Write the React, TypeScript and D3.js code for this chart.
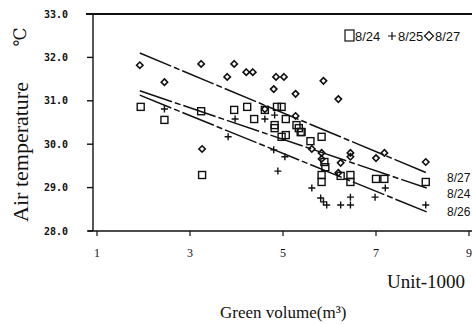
import * as d3 from 'd3';
import React, { useEffect, useRef } from 'react';

// 8/27 (diamonds)
const aug27 = [
  [1.92, 31.82], [2.45, 31.43], [3.24, 31.85], [3.95, 31.85], [3.8, 31.55],
  [4.21, 31.66], [4.35, 31.66], [4.8, 31.27], [4.85, 31.55], [5.02, 31.55],
  [5.27, 31.16], [5.87, 31.46], [6.19, 31.04], [3.26, 29.89], [4.61, 30.81],
  [5.27, 30.65], [5.62, 29.89], [5.83, 29.8], [6.45, 29.8], [6.45, 29.71],
  [7.0, 29.68], [7.18, 29.8], [6.24, 29.57], [5.83, 29.66], [6.19, 29.34],
  [8.07, 29.59],
];
// 8/24 (squares)
const aug24 = [
  [1.94, 30.86], [2.45, 30.56], [3.24, 30.76], [3.26, 29.29], [3.95, 30.79],
  [4.23, 30.86], [4.38, 30.58], [4.61, 30.79], [4.87, 30.86], [4.97, 30.86],
  [4.82, 30.44], [4.82, 30.37], [5.06, 30.58], [5.29, 30.44], [5.38, 30.28],
  [4.97, 30.17], [5.06, 30.21], [5.34, 30.37], [5.4, 30.28], [5.59, 30.07],
  [5.83, 30.17], [5.89, 29.59], [5.91, 29.47], [5.83, 29.29], [5.83, 29.13],
  [6.24, 29.27], [6.45, 29.29], [6.45, 29.13], [7.0, 29.2], [7.18, 29.2],
  [8.07, 29.13],
];
// 8/25 (plus)
const aug25 = [
  [2.45, 30.81], [3.97, 30.58], [4.61, 30.58], [4.82, 30.67], [3.82, 30.17],
  [4.8, 29.87], [5.04, 29.71], [4.89, 29.38], [5.62, 28.99], [5.81, 28.76],
  [5.87, 28.67], [5.94, 28.6], [6.24, 28.6], [6.45, 28.78], [6.45, 28.6],
  [6.98, 28.78], [7.2, 28.99], [8.07, 28.6],
];

// regression lines: label, x start, y start, x end, y end
const fitLabels = ['8/27', '8/24', '8/26'];
const fitStart = [[1.92, 32.1], [1.92, 31.23], [1.92, 31.13]];
const fitEnd = [[8.09, 29.34], [8.09, 28.99], [8.09, 28.44]];

const yTicks = [28, 29, 30, 31, 32, 33];
const xTicks = [1, 3, 5, 7, 9];

export default function App({ width = 472, height = 325 }) {
  const svgRef = useRef(null);

  const x = d3.scaleLinear().domain([1, 9]).range([97, 469]);
  const y = d3.scaleLinear().domain([28, 33]).range([231, 14]);

  useEffect(() => {
    const svg = d3.select(svgRef.current);
    svg.selectAll('*').remove();
    const ink = '#111';

    // frame: top and bottom lines, left axis
    svg.append('line').attr('x1', 86).attr('x2', width).attr('y1', y(33)).attr('y2', y(33))
      .attr('stroke', ink).attr('stroke-width', 2);
    svg.append('line').attr('x1', 88).attr('x2', width).attr('y1', y(28)).attr('y2', y(28))
      .attr('stroke', ink).attr('stroke-width', 1.6);
    svg.append('line').attr('x1', 93).attr('x2', 93).attr('y1', y(33)).attr('y2', y(28))
      .attr('stroke', ink).attr('stroke-width', 1.4);

    // Eixo Y
    const yg = svg.append('g');
    yg.selectAll('line').data(yTicks).enter().append('line')
      .attr('x1', 87).attr('x2', 93).attr('y1', (d) => y(d)).attr('y2', (d) => y(d))
      .attr('stroke', ink).attr('stroke-width', 1.4);
    yg.selectAll('text').data(yTicks).enter().append('text')
      .attr('x', 68).attr('y', (d) => y(d) + 3.5)
      .attr('text-anchor', 'end')
      .style('font-family', 'DejaVu Sans Mono')
      .style('font-weight', 'bold')
      .style('font-size', '10px')
      .attr('fill', ink)
      .text((d) => d3.format('.1f')(d));

    // Eixo X
    const xg = svg.append('g');
    xg.selectAll('line').data(xTicks).enter().append('line')
      .attr('x1', (d) => x(d)).attr('x2', (d) => x(d)).attr('y1', y(28)).attr('y2', y(28) + 5)
      .attr('stroke', ink).attr('stroke-width', 1.2);
    xg.selectAll('text').data(xTicks).enter().append('text')
      .attr('x', (d) => x(d)).attr('y', 257)
      .attr('text-anchor', 'middle')
      .style('font-family', 'Liberation Serif')
      .style('font-size', '12px')
      .attr('fill', ink)
      .text((d) => d);

    // regression lines
    svg.append('g').selectAll('line').data(fitLabels).enter().append('line')
      .attr('x1', (d, i) => x(fitStart[i][0])).attr('y1', (d, i) => y(fitStart[i][1]))
      .attr('x2', (d, i) => x(fitEnd[i][0])).attr('y2', (d, i) => y(fitEnd[i][1]))
      .attr('stroke', ink).attr('stroke-width', 1.5).attr('stroke-dasharray', '34,3,6,3');
    svg.append('g').selectAll('text').data(fitLabels).enter().append('text')
      .attr('x', 447).attr('y', (d, i) => y(fitEnd[i][1]) + [9, 10, 4][i])
      .style('font-family', 'Liberation Sans')
      .style('font-size', '12px')
      .attr('fill', ink)
      .text((d) => d);

    // points
    const dia = 'M0,-3.2L3.2,0L0,3.2L-3.2,0Z';
    svg.append('g').selectAll('path').data(aug27).enter().append('path')
      .attr('d', dia)
      .attr('transform', (d) => `translate(${x(d[0])},${y(d[1])})`)
      .attr('fill', 'none').attr('stroke', ink).attr('stroke-width', 1.6);
    svg.append('g').selectAll('rect').data(aug24).enter().append('rect')
      .attr('x', (d) => x(d[0]) - 3.5).attr('y', (d) => y(d[1]) - 3.5)
      .attr('width', 7).attr('height', 7)
      .attr('fill', 'none').attr('stroke', ink).attr('stroke-width', 1.4);
    svg.append('g').selectAll('path').data(aug25).enter().append('path')
      .attr('d', 'M-3.5,0H3.5M0,-3.5V3.5')
      .attr('transform', (d) => `translate(${x(d[0])},${y(d[1])})`)
      .attr('fill', 'none').attr('stroke', ink).attr('stroke-width', 1.4);

    // Legenda
    const lg = svg.append('g')
      .style('font-family', 'Liberation Sans')
      .style('font-size', '13px')
      .attr('fill', ink);
    lg.append('rect').attr('x', 345).attr('y', 30).attr('width', 9).attr('height', 11)
      .attr('fill', 'none').attr('stroke', ink).attr('stroke-width', 1.2);
    lg.append('text').attr('x', 355).attr('y', 41).text('8/24');
    lg.append('path').attr('d', 'M388,36H396M392,32V40').attr('stroke', ink).attr('stroke-width', 1.2);
    lg.append('text').attr('x', 398).attr('y', 41).text('8/25');
    lg.append('path').attr('d', 'M0,-4.5L4.5,0L0,4.5L-4.5,0Z').attr('transform', 'translate(429,36)')
      .attr('fill', 'none').attr('stroke', ink).attr('stroke-width', 1.2);
    lg.append('text').attr('x', 435).attr('y', 41).text('8/27');

    // titles
    svg.append('text')
      .attr('transform', 'translate(28,152) rotate(-90)')
      .attr('text-anchor', 'middle')
      .style('font-family', 'Liberation Serif')
      .style('font-size', '22px')
      .attr('fill', ink)
      .text('Air temperature');
    svg.append('text')
      .attr('transform', 'translate(26,37) rotate(-90)')
      .attr('text-anchor', 'middle')
      .style('font-family', 'DejaVu Serif')
      .style('font-size', '17px')
      .attr('fill', ink)
      .text('℃');
    svg.append('text')
      .attr('x', 387).attr('y', 288)
      .style('font-family', 'Liberation Serif')
      .style('font-size', '19px')
      .attr('fill', ink)
      .text('Unit-1000');
    svg.append('text')
      .attr('x', 220).attr('y', 318)
      .style('font-family', 'Liberation Serif')
      .style('font-size', '17px')
      .attr('fill', ink)
      .text('Green volume(m³)');
  }, []);

  return (
    <svg
      ref={svgRef}
      width={width}
      height={height}
      style={{ position: 'absolute', left: 0, top: 0, background: '#fff' }}
    ></svg>
  );
}
